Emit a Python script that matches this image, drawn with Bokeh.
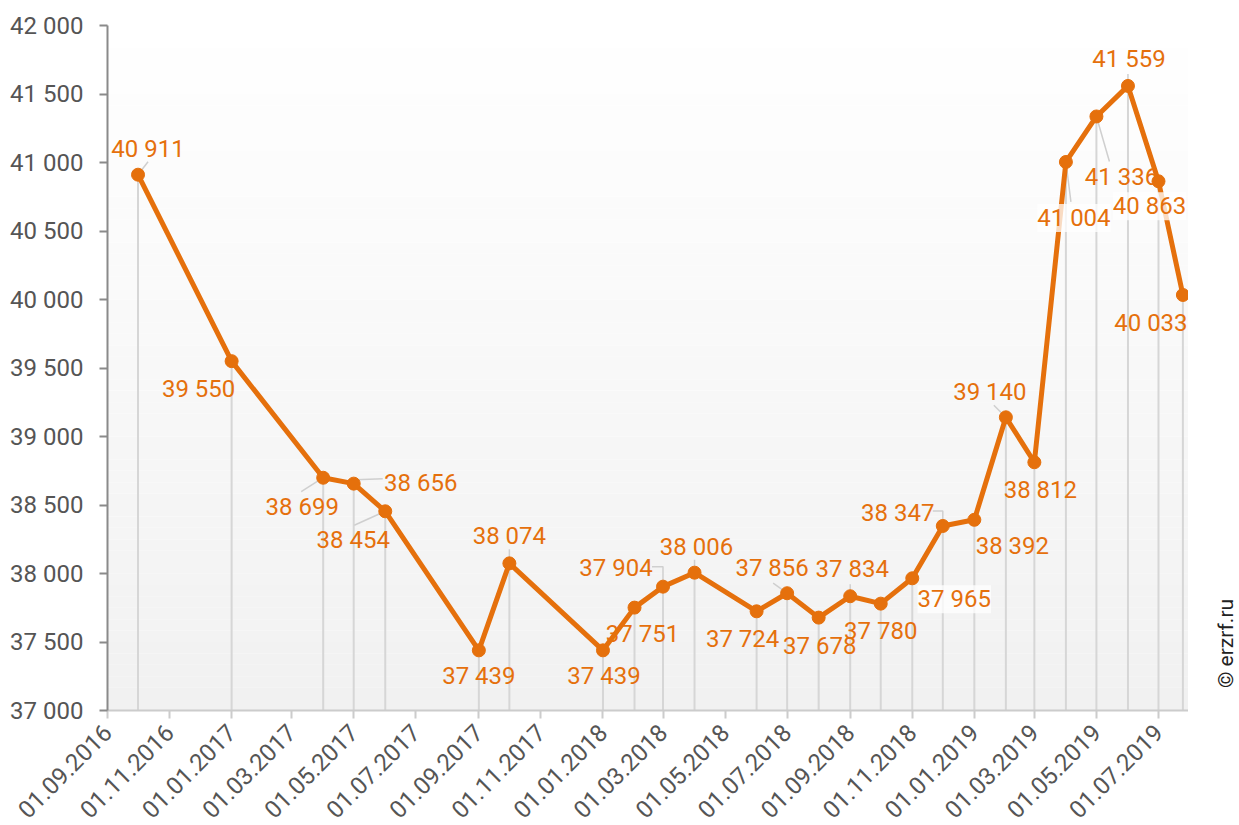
import numpy as np
from math import pi
from bokeh.plotting import figure
from bokeh.layouts import row
from bokeh.models import (ColumnDataSource, Label, BoxAnnotation, FixedTicker,
                          DatetimeTickFormatter, CustomJSTickFormatter, Range1d)
from bokeh.embed import file_html
from bokeh.resources import INLINE

# ---------------- data ----------------
dates = ["2016-10-01", "2017-01-01", "2017-04-01", "2017-05-01", "2017-06-01",
         "2017-09-01", "2017-10-01", "2018-01-01", "2018-02-01", "2018-03-01",
         "2018-04-01", "2018-06-01", "2018-07-01", "2018-08-01", "2018-09-01",
         "2018-10-01", "2018-11-01", "2018-12-01", "2019-01-01", "2019-02-01",
         "2019-03-01", "2019-04-01", "2019-05-01", "2019-06-01", "2019-07-01",
         "2019-07-25"]
values = [40911, 39550, 38699, 38656, 38454, 37439, 38074, 37439, 37751, 37904,
          38006, 37724, 37856, 37678, 37834, 37780, 37965, 38347, 38392, 39140,
          38812, 41004, 41336, 41559, 40863, 40033]
x_tick_dates = ["2016-09-01", "2016-11-01", "2017-01-01", "2017-03-01", "2017-05-01",
                "2017-07-01", "2017-09-01", "2017-11-01", "2018-01-01", "2018-03-01",
                "2018-05-01", "2018-07-01", "2018-09-01", "2018-11-01", "2019-01-01",
                "2019-03-01", "2019-05-01", "2019-07-01"]
y_ticks = [37000, 37500, 38000, 38500, 39000, 39500, 40000, 40500, 41000, 41500, 42000]
credit = "© erzrf.ru"

# ---------------- label placement (screen px, y down) ----------------
label_offsets = [(10, -26), (-33, 28), (-21, 29), (67, -1), (-32, 29), (0, 26), (0, -27),
                 (1, 26), (8, 26), (-47, -19), (2, -26), (-14, 28), (-15, -25), (1, 28),
                 (2, -27), (0, 27), (42, 21), (-45, -13), (38, 26), (-16, -25), (6, 28),
                 (8, 56), (25, 61), (1, -27), (-9, 25), (-32, 28)]
label_bg = {16, 21, 24}
leaders = {0: [(0, 0), (10, -13)], 2: [(0, 0), (-22, 14)], 3: [(0, 0), (2, -4), (29, -5)],
           4: [(0, 0), (-31, 14)], 6: [(0, 0), (0, -14)], 9: [(0, 0), (0, -20), (-11, -20)],
           10: [(0, 0), (0, -13)], 12: [(0, 0), (-14, -10)], 14: [(0, 0), (0, -12)],
           17: [(0, 0), (0, -15), (-10, -15)], 19: [(0, 0), (-12, -12)],
           21: [(0, 0), (5, 40)], 22: [(0, 0), (13, 45)], 23: [(0, 0), (0, -12)]}

ORANGE = "#E5700C"
FONT = "Roboto"
FS = "24px"


def ms(d):
    return float(np.datetime64(d, "ms").astype(np.int64))


xs = [ms(d) for d in dates]
x_start = ms("2016-09-01")
x_end = ms("2019-07-30T12:00")
FW, FH = 1081, 685
TOP, BOTTOM = 25, 100
y0, y1 = 37000, 42000
px_per_ms = FW / (x_end - x_start)
px_per_unit = FH / (y1 - y0)

p = figure(frame_width=FW, frame_height=FH, x_axis_type="datetime",
           x_range=Range1d(x_start, x_end), y_range=Range1d(y0, y1),
           output_backend="svg", toolbar_location=None,
           min_border_left=107, min_border_right=0, min_border_top=TOP,
           min_border_bottom=BOTTOM)
p.outline_line_color = None
p.xgrid.visible = False
p.ygrid.visible = False
p.background_fill_color = "white"

# gradient background
nb = 60
for i in range(nb):
    b = y0 + (y1 - y0) * i / nb
    t = y0 + (y1 - y0) * (i + 1) / nb
    frac = 1 - (i + 0.5) / nb
    g = int(round(255 - 14 * frac))
    p.add_layout(BoxAnnotation(bottom=b, top=t, fill_color=(g, g, g), fill_alpha=1.0,
                               line_color=None, level="underlay"))

src = ColumnDataSource(dict(x=xs, y=values))

# drop lines
p.segment(x0="x", y0=y0, x1="x", y1="y", source=src, line_color="#d6d6d6", line_width=2)

# leader lines
lx, ly = [], []
for i, pts in leaders.items():
    lx.append([xs[i] + dx / px_per_ms for dx, dy in pts])
    ly.append([values[i] - dy / px_per_unit for dx, dy in pts])
p.multi_line(lx, ly, line_color="#cfcfcf", line_width=1.5)

p.line("x", "y", source=src, line_color=ORANGE, line_width=5, line_join="round")
p.scatter("x", "y", source=src, size=13, fill_color=ORANGE, line_color=ORANGE)

for i, (x, v) in enumerate(zip(xs, values)):
    dx, dy = label_offsets[i]
    txt = f"{v:,}".replace(",", " ")
    lab = Label(x=x, y=v, x_offset=dx, y_offset=-dy, text=txt, text_align="center",
                text_baseline="middle", text_color=ORANGE, text_font=FONT,
                text_font_size=FS)
    if i in label_bg:
        lab.background_fill_color = "white"
        lab.background_fill_alpha = 0.75
    p.add_layout(lab)

# axes
p.yaxis.ticker = FixedTicker(ticks=y_ticks)
p.yaxis.formatter = CustomJSTickFormatter(
    code="return tick.toFixed(0).replace(/\\B(?=(\\d{3})+(?!\\d))/g, ' ');")
p.yaxis.axis_line_color = "#8a8a8a"
p.yaxis.axis_line_width = 2
p.yaxis.major_tick_line_color = "#8a8a8a"
p.yaxis.major_tick_line_width = 2
p.yaxis.major_tick_in = 0
p.yaxis.major_tick_out = 8
p.yaxis.minor_tick_line_color = None
p.yaxis.major_label_text_font = FONT
p.yaxis.major_label_text_font_size = FS
p.yaxis.major_label_text_color = "#555555"
p.yaxis.major_label_standoff = 16

p.xaxis.ticker = FixedTicker(ticks=[ms(d) for d in x_tick_dates])
fmt = "%d.%m.%Y"
p.xaxis.formatter = DatetimeTickFormatter(
    microseconds=fmt, milliseconds=fmt, seconds=fmt, minsec=fmt, minutes=fmt,
    hourmin=fmt, hours=fmt, days=fmt, months=fmt, years=fmt)
p.xaxis.axis_line_color = "#cccccc"
p.xaxis.axis_line_width = 2
p.xaxis.major_tick_line_color = "#cccccc"
p.xaxis.major_tick_line_width = 2
p.xaxis.major_tick_in = 0
p.xaxis.major_tick_out = 8
p.xaxis.minor_tick_line_color = None
p.xaxis.major_label_text_font = FONT
p.xaxis.major_label_text_font_size = FS
p.xaxis.major_label_text_color = "#555555"
p.xaxis.major_label_orientation = pi / 4
p.xaxis.major_label_standoff = 10

# narrow side panel carrying the rotated credit text
p2 = figure(frame_width=51, frame_height=FH, x_range=Range1d(0, 51),
            y_range=Range1d(0, FH), output_backend="svg", toolbar_location=None,
            x_axis_location=None, y_axis_location=None,
            min_border_left=0, min_border_right=0, min_border_top=TOP,
            min_border_bottom=BOTTOM)
p2.outline_line_color = None
p2.xgrid.visible = False
p2.ygrid.visible = False
p2.add_layout(Label(x=37, y=67, text=credit, angle=pi / 2, text_align="center",
                    text_baseline="middle", text_font=FONT, text_font_size="21px",
                    text_color="#222222"))

layout = row(p, p2)
open("out.html", "w").write(file_html(layout, INLINE))
